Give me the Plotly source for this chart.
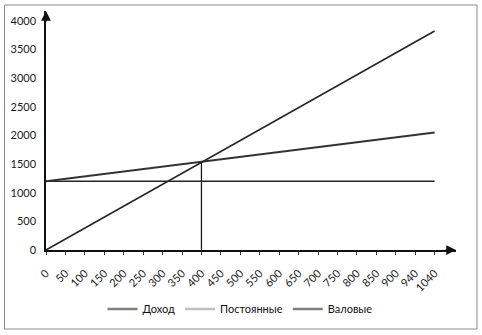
import plotly.graph_objects as go

categories = ["0", "50", "100", "150", "200", "250", "300", "350", "400", "450",
              "500", "550", "600", "650", "700", "750", "800", "850", "900", "940", "1040"]
revenue = [0, 191, 382, 573, 764, 955, 1146, 1337, 1528, 1719, 1910, 2101, 2292,
           2483, 2674, 2865, 3056, 3247, 3438, 3629, 3820]
fixed = [1200] * 21
total = [1200, 1243, 1285, 1328, 1370, 1413, 1455, 1498, 1540, 1583, 1625, 1668,
         1710, 1753, 1795, 1838, 1880, 1923, 1965, 2008, 2050]
breakeven_x = ["400", "400"]
breakeven_y = [0, 1535]

series_names = ["Доход", "Постоянные", "Валовые"]
legend_colors = ["#808080", "#c0c0c0", "#808080"]

FONT = "Lato"

fig = go.Figure()
fig.add_trace(go.Scatter(x=categories, y=fixed, mode="lines",
                         line=dict(color="#262626", width=1.6), showlegend=False))
fig.add_trace(go.Scatter(x=categories, y=total, mode="lines",
                         line=dict(color="#333333", width=2), showlegend=False))
fig.add_trace(go.Scatter(x=categories, y=revenue, mode="lines",
                         line=dict(color="#262626", width=1.6), showlegend=False))
fig.add_trace(go.Scatter(x=breakeven_x, y=breakeven_y, mode="lines",
                         line=dict(color="#1a1a1a", width=1.3), showlegend=False))
for name, col in zip(series_names, legend_colors):
    fig.add_trace(go.Scatter(x=[None], y=[None], mode="lines", name=name,
                             line=dict(color=col, width=2.5)))

W, H = 482, 335
ml, mr, mt, mb = 46, 26, 11, 85
pw = W - ml - mr
ph = H - mt - mb

def px_to_paper_x(px):
    return (px - ml) / pw

def px_to_paper_y(py):
    return (H - mb - py) / ph

fig.update_layout(
    width=W, height=H,
    margin=dict(l=ml, r=mr, t=mt, b=mb),
    paper_bgcolor="white", plot_bgcolor="white",
    font=dict(family=FONT, size=11, color="#111111"),
    xaxis=dict(type="category", range=[0, 21.1], tickmode="linear", tick0=0, dtick=1,
               tickangle=-45, showgrid=False, zeroline=False,
               showline=True, linecolor="#111111", linewidth=1.5,
               ticks="outside", ticklen=3, tickcolor="#333333",
               ticklabelstandoff=8,
               tickfont=dict(family=FONT, size=11, color="#1a1a1a")),
    yaxis=dict(range=[0, 4170], tickmode="linear", tick0=0, dtick=500,
               showgrid=False, zeroline=False, showline=True,
               linecolor="#111111", linewidth=1.5, ticks="",
               ticklabelstandoff=6,
               tickfont=dict(family=FONT, size=11, color="#1a1a1a")),
    legend=dict(orientation="h", x=px_to_paper_x(240), xanchor="center",
                y=px_to_paper_y(309), yanchor="middle",
                font=dict(family=FONT, size=11, color="#111111"),
                itemwidth=30, bgcolor="rgba(0,0,0,0)"),
    showlegend=True,
)

# axis arrowheads
fig.add_annotation(x=1, y=0, xref="paper", yref="paper", ax=-12, ay=0,
                   showarrow=True, arrowhead=2, arrowsize=1.3, arrowwidth=1.5,
                   arrowcolor="#111111", text="", standoff=0)
fig.add_annotation(x=0, y=1, xref="paper", yref="paper", ax=0, ay=12,
                   showarrow=True, arrowhead=2, arrowsize=1.3, arrowwidth=1.5,
                   arrowcolor="#111111", text="", standoff=0)

# chart border
fig.add_shape(type="rect", xref="paper", yref="paper",
              x0=px_to_paper_x(4.5), x1=px_to_paper_x(477),
              y0=px_to_paper_y(329), y1=px_to_paper_y(5),
              line=dict(color="#8a8a8a", width=1), layer="below")

fig.write_html("out.html")
